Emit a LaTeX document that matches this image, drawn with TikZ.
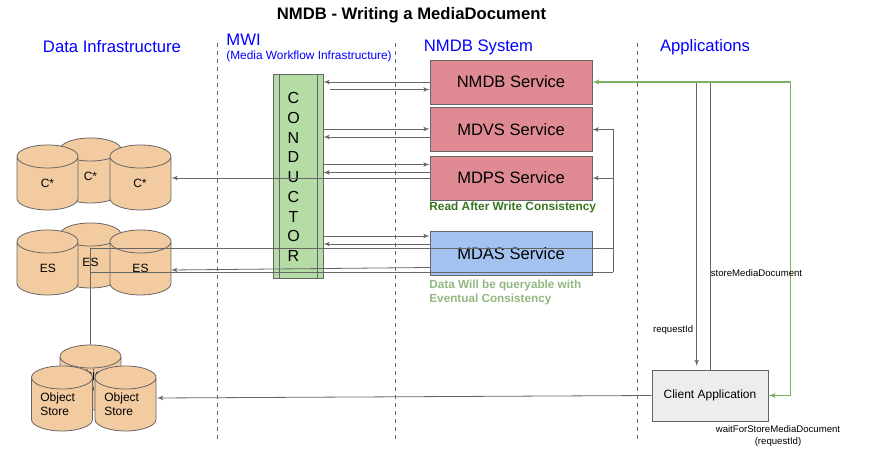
\documentclass[tikz,border=0pt]{standalone}
\usepackage{fontspec}
\setmainfont{Liberation Sans}
\usetikzlibrary{arrows,shapes.geometric}
\definecolor{edgegray}{HTML}{666666}
\definecolor{servicered}{HTML}{E08B93}
\definecolor{serviceblue}{HTML}{A4C2F0}
\definecolor{conductorgreen}{HTML}{B6DCA6}
\definecolor{storeorange}{HTML}{F3CBA0}
\definecolor{replygreen}{HTML}{78B261}
\definecolor{readgreen}{HTML}{38761D}
\definecolor{datagreen}{HTML}{93B77F}
\begin{document}
\begin{tikzpicture}[x=0.75pt,y=-0.75pt,line width=0.6pt]
  \tikzstyle{heading}=[text=blue,font=\fontsize{12.5}{15}\selectfont,inner sep=0pt]
  \tikzstyle{service}=[draw=edgegray,minimum width=121.5pt,minimum height=33pt,inner sep=0pt,font=\fontsize{12.4}{14}\selectfont]
  \tikzstyle{store}=[cylinder,shape border rotate=90,aspect=0.72,draw=edgegray,fill=storeorange,minimum width=45.75pt,minimum height=48.75pt,inner sep=12pt]
  \tikzstyle{storetext}=[inner sep=0pt,font=\fontsize{9}{10.5}\selectfont]
  \tikzstyle{note}=[inner sep=0pt,font=\fontsize{7.2}{8.3}\selectfont]
  \tikzstyle{tier}=[draw=edgegray,dashed]
  \tikzstyle{line} = [draw=edgegray, -latex']
  \tikzstyle{bus} = [draw=edgegray]
  \tikzstyle{reply} = [draw=replygreen, line width=0.8pt]
  \useasboundingbox (0,0) rectangle (872,452);
  % tiers
  \coordinate (tier1top) at (217,43);
  \coordinate (tier1end) at (217,441);
  \coordinate (tier2top) at (395,43);
  \coordinate (tier2end) at (395,441);
  \coordinate (tier3top) at (637.5,43);
  \coordinate (tier3end) at (637.5,441);
  \draw[tier] (tier1top) -- (tier1end);
  \draw[tier] (tier2top) -- (tier2end);
  \draw[tier] (tier3top) -- (tier3end);
  % titles
  \node[font=\fontsize{12.5}{14}\selectfont\bfseries,inner sep=0pt] (title) at (411.5,15) {NMDB - Writing a MediaDocument};
  \node[heading] (datahead) at (112,47) {Data Infrastructure};
  \node[heading,anchor=west] (mwihead) at (226,39.5) {MWI};
  \node[heading,anchor=west,font=\fontsize{8.9}{10}\selectfont] (mwisub) at (226,56.5) {(Media Workflow Infrastructure)};
  \node[heading] (nmdbhead) at (478.5,47) {NMDB System};
  \node[heading] (apphead) at (705,47) {Applications};
  % stores
  \node[store] (Cback) at (90.5,181.5) {};
  \node[store] (Cleft) at (47.5,188.5) {};
  \node[store] (Cright) at (140.5,188.5) {};
  \node[storetext] (Cbacktext) at (90.5,176) {C*};
  \node[storetext] (Clefttext) at (47.5,183) {C*};
  \node[storetext] (Crighttext) at (140,183) {C*};
  \node[store] (ESback) at (90.5,266.5) {};
  \node[store] (ESleft) at (47.5,273.5) {};
  \node[store] (ESright) at (140.5,273.5) {};
  \node[storetext] (ESbacktext) at (90.5,262) {ES};
  \node[storetext] (ESlefttext) at (48,268.5) {ES};
  \node[storetext] (ESrighttext) at (140.5,268.5) {ES};
  \node[store] (OBback) at (90.5,388.5) {};
  \node[storetext,align=left,anchor=west] (OBbacktext) at (76,381) {Object\\Store};
  \node[store] (OBleft) at (62,409.5) {};
  \node[store] (OBright) at (125.5,409.5) {};
  \node[storetext,align=left,anchor=west] (OBlefttext) at (40,404) {Object\\Store};
  \node[storetext,align=left,anchor=west] (OBrighttext) at (104,404) {Object\\Store};
  % conductor
  \node[draw=edgegray,fill=conductorgreen,minimum width=37.5pt,minimum height=153pt,inner sep=0pt] (CONDUCTOR) at (298,176) {};
  \coordinate (innerleft) at (279.5,176);
  \coordinate (innerright) at (317,176);
  \draw[bus] (CONDUCTOR.north -| innerleft) -- (CONDUCTOR.south -| innerleft);
  \draw[bus] (CONDUCTOR.north -| innerright) -- (CONDUCTOR.south -| innerright);
  \node[align=center,inner sep=0pt,font=\fontsize{12}{14.8}\selectfont] (conductortext) at (293.5,177) {C\\O\\N\\D\\U\\C\\T\\O\\R};
  % services
  \node[service,fill=servicered] (NMDB) at (511,82) {NMDB Service};
  \node[service,fill=servicered] (MDVS) at (511,129.5) {MDVS Service};
  \node[service,fill=servicered] (MDPS) at (511,178) {MDPS Service};
  \node[service,fill=serviceblue] (MDAS) at (511,253.5) {MDAS Service};
  \node[inner sep=0pt,anchor=west,text=readgreen,font=\fontsize{8.9}{10}\selectfont\bfseries] (readnote) at (429,207) {Read After Write Consistency};
  \node[inner sep=0pt,anchor=north west,align=left,text=datagreen,font=\fontsize{8.8}{10.5}\selectfont\bfseries] (datanote) at (429,280) {Data Will be queryable with\\Eventual Consistency};
  % conductor and services
  \coordinate (nmdbout) at (430,82);
  \coordinate (nmdbin) at (330,89.5);
  \coordinate (mdvsin) at (430,129);
  \coordinate (mdvsout) at (430,137);
  \coordinate (mdpsin) at (430,164.5);
  \coordinate (mdpsout) at (430,172.5);
  \coordinate (mdasin) at (430,236);
  \coordinate (mdasout) at (430,244);
  \draw[line] (NMDB.west |- nmdbout) -- (CONDUCTOR.east |- nmdbout);
  \draw[line] (nmdbin) -- (NMDB.west |- nmdbin);
  \draw[line] (CONDUCTOR.east |- mdvsin) -- (MDVS.west |- mdvsin);
  \draw[line] (MDVS.west |- mdvsout) -- (CONDUCTOR.east |- mdvsout);
  \draw[line] (CONDUCTOR.east |- mdpsin) -- (MDPS.west |- mdpsin);
  \draw[line] (MDPS.west |- mdpsout) -- (CONDUCTOR.east |- mdpsout);
  \draw[line] (CONDUCTOR.east |- mdasin) -- (MDAS.west |- mdasin);
  \draw[line] (MDAS.west |- mdasout) -- (CONDUCTOR.east |- mdasout);
  % services and stores
  \coordinate (espoint) at (171,270);
  \coordinate (mdasstore) at (430,267.5);
  \coordinate (busright) at (613,178);
  \coordinate (esbustop) at (90.5,248);
  \coordinate (esbusend) at (90.5,272);
  \draw[line] (MDPS.west) -- (Cright.east |- MDPS.west);
  \draw[line] (mdasstore) -- (espoint);
  \draw[bus] (esbustop) -- (busright |- esbustop);
  \draw[bus] (esbusend) -- (busright |- esbusend);
  \draw[bus] (esbustop) -- (OBback.north);
  \draw[bus] (busright |- esbusend) -- (busright |- MDVS.east);
  \draw[line] (busright |- MDVS.east) -- (MDVS.east);
  \draw[line] (busright) -- (MDPS.east);
  % client
  \node[draw=edgegray,fill=black!7,minimum width=87pt,minimum height=38.25pt,inner sep=0pt,font=\fontsize{9}{11}\selectfont] (client) at (710,395.5) {Client Application};
  \coordinate (storepoint) at (157,398);
  \coordinate (replycorner) at (790.5,82);
  \coordinate (requestline) at (696.7,82);
  \coordinate (requestend) at (696.7,366);
  \draw[line] (client.west) -- (storepoint);
  \draw[line] (requestline) -- (requestend);
  \draw[bus] (client.north) -- (client.north |- NMDB.east);
  \draw[reply,latex'-latex'] (NMDB.east) -- (replycorner) -- (replycorner |- client.east) -- (client.east);
  \node[note,anchor=west] (storelabel) at (710.5,273.5) {storeMediaDocument};
  \node[note,anchor=east] (requestlabel) at (693.5,330.5) {requestId};
  \node[note,align=center] (waitlabel) at (778,436) {waitForStoreMediaDocument\\(requestId)};
\end{tikzpicture}
\end{document}
